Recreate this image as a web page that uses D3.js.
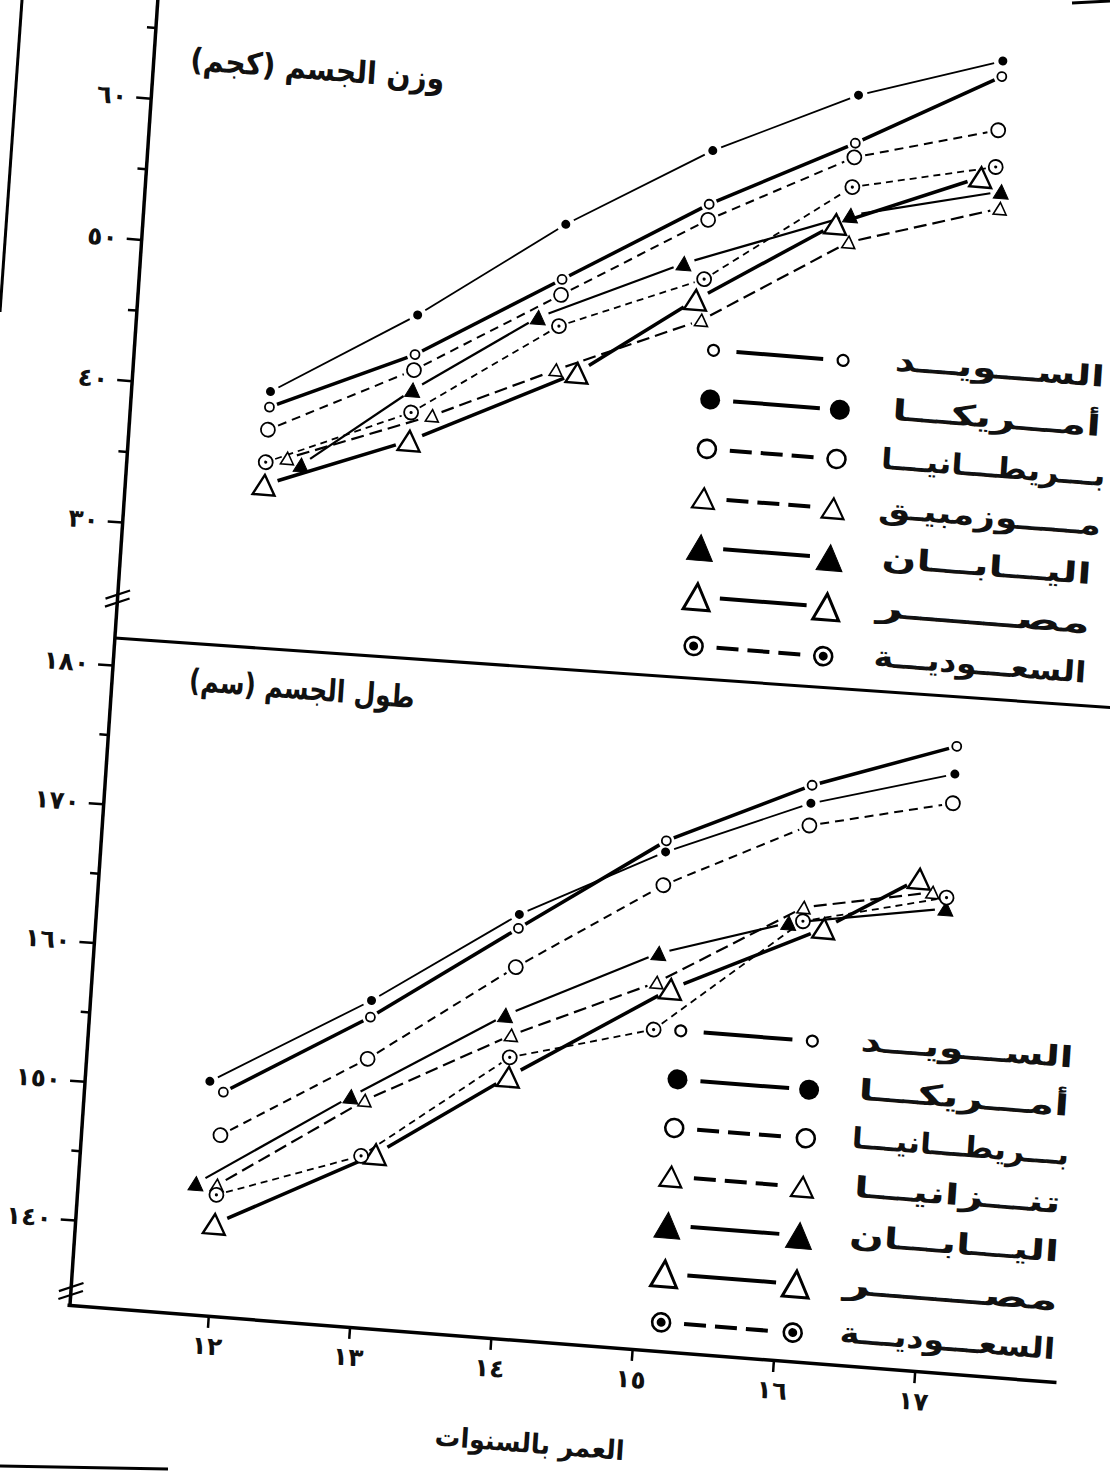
<!DOCTYPE html>
<html lang="ar">
<head>
<meta charset="utf-8">
<script src="https://cdn.jsdelivr.net/npm/d3@7"></script>
<style>
  html, body { margin: 0; padding: 0; background: #fff; }
  svg { display: block; }
  text { font-family: "DejaVu Sans", sans-serif; font-weight: bold; fill: #111; }
</style>
</head>
<body>
<svg id="chart" width="1110" height="1475"></svg>
<script>
// ---- data ----
const ageTicks = [12, 13, 14, 15, 16, 17];
const weightTicks = [30, 40, 50, 60];
const weightMinor = [35, 45, 55, 65];
const heightTicks = [140, 150, 160, 170, 180];
const heightMinor = [145, 155, 165, 175];

const wholeYears = [12, 13, 14, 15, 16, 17];

// body weight (kg), top panel
const wSweden = [38.9, 43.4, 49.5, 55.6, 60.7, 66.2];
const wUsa = [40.0, 46.2, 53.4, 59.4, 64.1, 67.3];
const wBritain = [37.3, 42.3, 48.4, 54.5, 59.7, 62.4];
const wMozambique = [35.4, 39.2, 43.1, 47.4, 53.7, 56.9];
const wMozambiqueAge = [12.15, 13.15, 14, 15, 16, 17.05];
const wJapan = [35.0, 40.9, 46.7, 51.3, 55.6, 58.1];
const wJapanAge = [12.25, 13, 13.85, 14.85, 16, 17.05];
const wEgypt = [33.4, 37.3, 43.0, 48.8, 54.9, 59.0];
const wEgyptAge = [12, 13, 14.15, 14.95, 15.9, 16.9];
const wSaudi = [35.0, 39.3, 46.2, 50.3, 57.6, 59.8];

// body height (cm), bottom panel
const hSweden = [150.0, 156.2, 163.4, 170.5, 175.3, 178.9];
const hUsa = [150.7, 157.4, 164.4, 169.7, 174.0, 176.9];
const hUsaAge = [11.9, 13, 14, 15, 16, 17];
const hBritain = [146.9, 153.2, 160.6, 167.3, 172.4, 174.8];
const hTanzania = [143.3, 150.2, 155.7, 160.3, 166.5, 168.3];
const hTanzaniaAge = [12, 13, 14, 15, 16, 16.9];
const hJapan = [143.3, 150.4, 157.1, 162.4, 165.3, 167.2];
const hJapanAge = [11.85, 12.9, 13.95, 15, 15.9, 17];
const hEgypt = [140.5, 146.4, 152.7, 159.9, 165.1, 169.2];
const hEgyptAge = [12, 13.1, 14, 15.1, 16.15, 16.8];
const hSaudi = [142.6, 146.2, 154.1, 156.9, 165.5, 168.0];

const legendTop = ["الســـويـــد", "أمـــريكـــا", "بـــريطـــانيـــا", "مـــــوزمبيـق", "اليـــابـــان", "مصـــــــر", "السعـــوديـــة"];
const legendBottom = ["الســـويـــد", "أمـــريكـــا", "بـــريطـــانيـــا", "تنـــزانيـــا", "اليـــابـــان", "مصـــــــر", "السعـــوديـــة"];
const legendTopWidths = [210, 209, 225, 223, 210, 214, 213];
const legendBottomWidths = [213, 211, 218, 207, 210, 215, 216];

// ---- line / marker styles ----
const styles = {
  sweden:     { marker: "ringSmall", width: 3.5, dash: null,   gap: 8 },
  usa:        { marker: "dot",       width: 1.8, dash: null,   gap: 9 },
  britain:    { marker: "ring",      width: 2,   dash: "9,6",  gap: 11 },
  mozambique: { marker: "triSmall",  width: 2.2, dash: "13,6", gap: 10 },
  japan:      { marker: "triFilled", width: 2.2, dash: null,   gap: 11 },
  egypt:      { marker: "triLarge",  width: 3.5, dash: null,   gap: 14 },
  saudi:      { marker: "ringDot",   width: 1.8, dash: "7,5",  gap: 10 }
};
const legendOrder = ["sweden", "usa", "britain", "mozambique", "japan", "egypt", "saudi"];

const weightSeries = [
  { key: "sweden", ages: wholeYears, values: wSweden },
  { key: "usa", ages: wholeYears, values: wUsa },
  { key: "britain", ages: wholeYears, values: wBritain },
  { key: "mozambique", ages: wMozambiqueAge, values: wMozambique },
  { key: "japan", ages: wJapanAge, values: wJapan },
  { key: "egypt", ages: wEgyptAge, values: wEgypt },
  { key: "saudi", ages: wholeYears, values: wSaudi }
];
const heightSeries = [
  { key: "sweden", ages: wholeYears, values: hSweden },
  { key: "usa", ages: hUsaAge, values: hUsa },
  { key: "britain", ages: wholeYears, values: hBritain },
  { key: "mozambique", ages: hTanzaniaAge, values: hTanzania },
  { key: "japan", ages: hJapanAge, values: hJapan },
  { key: "egypt", ages: hEgyptAge, values: hEgypt },
  { key: "saudi", ages: wholeYears, values: hSaudi }
];

const toArabic = n => String(n).replace(/[0-9]/g, d => "٠١٢٣٤٥٦٧٨٩"[+d]);

const svg = d3.select("#chart");

// page edges visible in the scan
svg.append("line").attr("x1", 22).attr("y1", 0).attr("x2", 0).attr("y2", 312)
  .attr("stroke", "#000").attr("stroke-width", 3);
svg.append("line").attr("x1", 1072).attr("y1", 3).attr("x2", 1110).attr("y2", 1)
  .attr("stroke", "#000").attr("stroke-width", 3);
svg.append("line").attr("x1", 0).attr("y1", 1466).attr("x2", 168).attr("y2", 1469)
  .attr("stroke", "#000").attr("stroke-width", 3);

// the printed figure sits slightly tilted on the page
const g = svg.append("g")
  .attr("transform", "matrix(0.99696,0.07794,-0.06714,0.99774,70,1305)");

const x = d3.scaleLinear().domain([11, 18]).range([-3, 989]);
const yW = d3.scaleLinear().domain([30, 60]).range([-784.7, -1209.6]);
const yH = d3.scaleLinear().domain([140, 180]).range([-85.1, -641.4]);

// vertical axis line (both panels) and the panel separator
g.append("line").attr("x1", 0).attr("y1", 0).attr("x2", 0).attr("y2", -1340)
  .attr("stroke", "#000").attr("stroke-width", 3.5);
g.append("line").attr("x1", 0).attr("y1", -668.5).attr("x2", 1030).attr("y2", -677)
  .attr("stroke", "#000").attr("stroke-width", 3);

// axis breaks
function axisBreak(yc) {
  [-4, 4].forEach(o => {
    g.append("line")
      .attr("x1", -12).attr("y1", yc + o + 5)
      .attr("x2", 12).attr("y2", yc + o - 5)
      .attr("stroke", "#000").attr("stroke-width", 2.2);
  });
}
axisBreak(-708);
axisBreak(-14);

function styleAxis(ax, fontSize) {
  ax.select(".domain").remove();
  ax.selectAll(".tick line").attr("stroke", "#000").attr("stroke-width", 2.5);
  ax.selectAll(".tick text").style("font-size", fontSize + "px").attr("fill", "#111");
}

const xAxis = g.append("g")
  .call(d3.axisBottom(x).tickValues(ageTicks).tickSize(12).tickPadding(9)
    .tickSizeOuter(0).tickFormat(toArabic));
xAxis.select(".domain").attr("stroke", "#000").attr("stroke-width", 3.5);
xAxis.selectAll(".tick line").attr("stroke", "#000").attr("stroke-width", 2.5);
xAxis.selectAll(".tick text").style("font-size", "25px").attr("fill", "#111");

styleAxis(g.append("g").call(d3.axisLeft(yW).tickValues(weightTicks).tickSize(15)
  .tickPadding(9).tickFormat(toArabic)), 25);
styleAxis(g.append("g").call(d3.axisLeft(yW).tickValues(weightMinor).tickSize(9)
  .tickFormat("")), 25);
styleAxis(g.append("g").call(d3.axisLeft(yH).tickValues(heightTicks).tickSize(15)
  .tickPadding(9).tickFormat(toArabic)), 25);
styleAxis(g.append("g").call(d3.axisLeft(yH).tickValues(heightMinor).tickSize(9)
  .tickFormat("")), 25);

// ---- markers ----
function triPath(w, h) {
  return `M0,${-h / 2}L${w / 2},${h / 2}L${-w / 2},${h / 2}Z`;
}

function drawMarker(sel, kind, cx, cy, big) {
  const m = sel.append("g").attr("transform", `translate(${cx},${cy})`);
  if (kind === "ringSmall") {
    m.append("circle").attr("r", big ? 5.5 : 4.5)
      .attr("fill", "#fff").attr("stroke", "#000").attr("stroke-width", big ? 2.2 : 1.8);
  } else if (kind === "dot") {
    m.append("circle").attr("r", big ? 10 : 4.5).attr("fill", "#000");
  } else if (kind === "ring") {
    m.append("circle").attr("r", big ? 9 : 7)
      .attr("fill", "#fff").attr("stroke", "#000").attr("stroke-width", big ? 2.6 : 1.8);
  } else if (kind === "ringDot") {
    m.append("circle").attr("r", big ? 9 : 7)
      .attr("fill", "#fff").attr("stroke", "#000").attr("stroke-width", big ? 2.6 : 1.8);
    m.append("circle").attr("r", big ? 4.5 : 1.6).attr("fill", "#000");
  } else if (kind === "triSmall") {
    m.append("path").attr("d", big ? triPath(22, 20) : triPath(13, 12))
      .attr("fill", "#fff").attr("stroke", "#000").attr("stroke-width", big ? 2.2 : 1.6)
      .attr("stroke-linejoin", "miter");
  } else if (kind === "triFilled") {
    m.append("path").attr("d", big ? triPath(26, 26) : triPath(15, 14))
      .attr("fill", "#000").attr("stroke", "#000").attr("stroke-width", 1);
  } else if (kind === "triLarge") {
    m.append("path").attr("d", big ? triPath(26, 26) : triPath(22, 20))
      .attr("fill", "#fff").attr("stroke", "#000").attr("stroke-width", big ? 3 : 2.4)
      .attr("stroke-linejoin", "miter");
  }
}

function drawPanel(seriesList, yScale) {
  const lines = g.append("g");
  const marks = g.append("g");
  seriesList.forEach(s => {
    const st = styles[s.key];
    const pts = s.ages.map((a, i) => [x(a), yScale(s.values[i])]);
    d3.pairs(pts).forEach(([p, q]) => {
      const dx = q[0] - p[0], dy = q[1] - p[1];
      const len = Math.hypot(dx, dy);
      const ux = dx / len, uy = dy / len;
      lines.append("line")
        .attr("x1", p[0] + ux * st.gap).attr("y1", p[1] + uy * st.gap)
        .attr("x2", q[0] - ux * st.gap).attr("y2", q[1] - uy * st.gap)
        .attr("stroke", "#000").attr("stroke-width", st.width)
        .attr("stroke-dasharray", st.dash);
    });
    pts.forEach(p => drawMarker(marks, st.marker, p[0], p[1], false));
  });
}

drawPanel(weightSeries, yW);
drawPanel(heightSeries, yH);

// ---- legends ----
function drawLegend(labels, widths, top, step, xl, xr, xText) {
  const lg = g.append("g");
  labels.forEach((label, i) => {
    const key = legendOrder[i];
    const st = styles[key];
    const yy = top + i * step;
    lg.append("line")
      .attr("x1", xl + 23).attr("y1", yy).attr("x2", xr - 20).attr("y2", yy)
      .attr("stroke", "#000").attr("stroke-width", 4)
      .attr("stroke-dasharray", st.dash ? "22,9" : null);
    drawMarker(lg, st.marker, xl, yy, true);
    drawMarker(lg, st.marker, xr, yy, true);
    lg.append("text")
      .attr("x", xText).attr("y", yy - 4)
      .attr("text-anchor", "middle")
      .attr("dominant-baseline", "central")
      .attr("direction", "rtl")
      .attr("textLength", widths[i])
      .attr("lengthAdjust", "spacingAndGlyphs")
      .style("font-size", "29px")
      .text(label);
  });
}

drawLegend(legendTop, legendTopWidths, -1002, 49.4, 578, 708, 865);
drawLegend(legendBottom, legendBottomWidths, -321, 48.7, 591, 723, 878);

// ---- titles ----
function title(txt, cx, cy, size, width) {
  g.append("text")
    .attr("x", cx).attr("y", cy)
    .attr("text-anchor", "middle")
    .attr("dominant-baseline", "central")
    .attr("direction", "rtl")
    .attr("textLength", width)
    .attr("lengthAdjust", "spacingAndGlyphs")
    .style("font-size", size + "px")
    .text("\u200F" + txt + "\u200F");
}
title("وزن الجسم (كجم)", 164, -1252, 31, 255);
title("طول الجسم (سم)", 190, -633, 31, 226);
title("العمر بالسنوات", 468, 102, 27, 190);
</script>
</body>
</html>
